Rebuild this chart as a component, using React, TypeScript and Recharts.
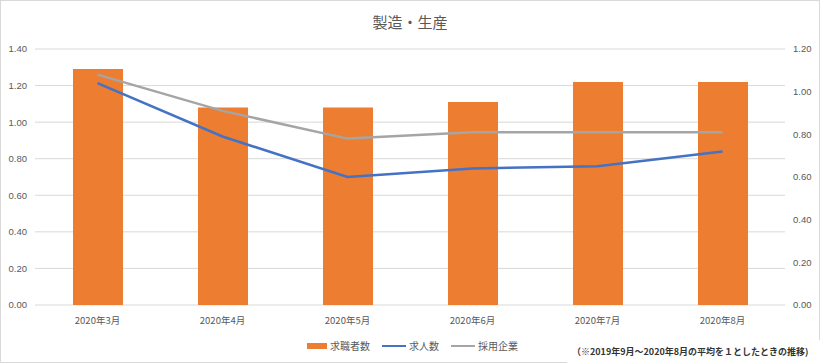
import React from "react";
import {
  ComposedChart,
  Bar,
  Line,
  XAxis,
  YAxis,
  CartesianGrid,
} from "recharts";

// Data
const months = ["2020年3月", "2020年4月", "2020年5月", "2020年6月", "2020年7月", "2020年8月"];
const jobSeekers = [1.29, 1.08, 1.08, 1.11, 1.22, 1.22]; // 求職者数 (left axis)
const jobOffers = [1.04, 0.79, 0.6, 0.64, 0.65, 0.72]; // 求人数 (right axis)
const hiringCompanies = [1.08, 0.91, 0.78, 0.81, 0.81, 0.81]; // 採用企業 (right axis)

const leftTicks = [0, 0.2, 0.4, 0.6, 0.8, 1.0, 1.2, 1.4];
const rightTicks = [0, 0.2, 0.4, 0.6, 0.8, 1.0, 1.2];
const edgeTicks = [0, 1, 2, 3, 4, 5, 6];

const data = months.map((m, i) => ({
  month: m,
  seekers: jobSeekers[i],
  offers: jobOffers[i],
  companies: hiringCompanies[i],
}));

const FONT = '"Liberation Sans", "Noto Sans CJK JP", sans-serif';
const JP = '"Noto Sans CJK JP", sans-serif';
const TEXT = "#595959";
const GRID = "#d9d9d9";

const legendItems = [
  { label: "求職者数", color: "#ED7D31", kind: "bar" },
  { label: "求人数", color: "#4472C4", kind: "line" },
  { label: "採用企業", color: "#A5A5A5", kind: "line" },
];

export default function App() {
  return (
    <div
      style={{
        position: "absolute",
        left: 0,
        top: 0,
        width: 820,
        height: 363,
        background: "#fff",
        fontFamily: JP,
      }}
    >
      <div
        style={{
          position: "absolute",
          left: 0,
          top: 0,
          width: 820,
          height: 363,
          boxSizing: "border-box",
          border: "1px solid #d9d9d9",
        }}
      />
      <div
        style={{
          position: "absolute",
          top: 11,
          left: 0,
          width: 820,
          textAlign: "center",
          fontSize: 15,
          color: TEXT,
          fontFamily: JP,
        }}
      >
        製造・生産
      </div>
      <ComposedChart
        width={820}
        height={363}
        data={data}
        margin={{ top: 49, right: 0, left: 0, bottom: 28 }}
        style={{ position: "absolute", left: 0, top: 0 }}
      >
        <CartesianGrid
          vertical={false}
          stroke={GRID}
          xAxisId="cat"
          yAxisId="left"
        />
        <XAxis
          xAxisId="edge"
          type="number"
          domain={[0, 6]}
          ticks={edgeTicks}
          height={0}
          tickSize={4}
          tickFormatter={() => ""}
          stroke={GRID}
          tickLine={{ stroke: GRID }}
          axisLine={{ stroke: GRID }}
        />
        <XAxis
          xAxisId="cat"
          dataKey="month"
          height={30}
          tickLine={false}
          axisLine={false}
          tickMargin={6}
          tick={{ fontSize: 9.5, fill: TEXT, fontFamily: JP }}
          interval={0}
        />
        <YAxis
          yAxisId="left"
          width={35}
          domain={[0, 1.4]}
          ticks={leftTicks}
          tickFormatter={(v: number) => v.toFixed(2)}
          tickLine={false}
          axisLine={false}
          tick={{ fontSize: 9.5, fill: TEXT, fontFamily: FONT }}
        />
        <YAxis
          yAxisId="right"
          orientation="right"
          width={35}
          domain={[0, 1.2]}
          ticks={rightTicks}
          tickFormatter={(v: number) => v.toFixed(2)}
          tickLine={false}
          axisLine={false}
          tick={{ fontSize: 9.5, fill: TEXT, fontFamily: FONT }}
        />
        <Bar
          xAxisId="cat"
          yAxisId="left"
          dataKey="seekers"
          fill="#ED7D31"
          barSize={50}
          isAnimationActive={false}
        />
        <Line
          xAxisId="cat"
          yAxisId="right"
          dataKey="offers"
          stroke="#4472C4"
          strokeWidth={2.5}
          dot={false}
          type="linear"
          isAnimationActive={false}
        />
        <Line
          xAxisId="cat"
          yAxisId="right"
          dataKey="companies"
          stroke="#A5A5A5"
          strokeWidth={2.5}
          dot={false}
          type="linear"
          isAnimationActive={false}
        />
      </ComposedChart>

      {/* legend */}
      <div
        style={{
          position: "absolute",
          top: 339,
          left: 307,
          display: "flex",
          alignItems: "center",
          fontSize: 10,
          color: TEXT,
          lineHeight: "14px",
        }}
      >
        {legendItems.map((it) => (
          <div
            key={it.label}
            style={{ display: "flex", alignItems: "center", marginRight: 12 }}
          >
            <span
              style={{
                display: "inline-block",
                width: it.kind === "bar" ? 20 : 24,
                height: it.kind === "bar" ? 6 : 2.5,
                background: it.color,
                marginRight: 3,
              }}
            />
            <span>{it.label}</span>
          </div>
        ))}
      </div>

      {/* note box overlapping the frame */}
      <div
        style={{
          position: "absolute",
          left: 567,
          top: 340,
          width: 253,
          height: 23,
          background: "#fff",
        }}
      />
      <div
        style={{
          position: "absolute",
          left: 572,
          top: 345,
          fontSize: 9,
          fontWeight: 600,
          color: "#333",
          whiteSpace: "nowrap",
          lineHeight: "14px",
        }}
      >
        （※2019年9月～2020年8月の平均を１としたときの推移)
      </div>
    </div>
  );
}
